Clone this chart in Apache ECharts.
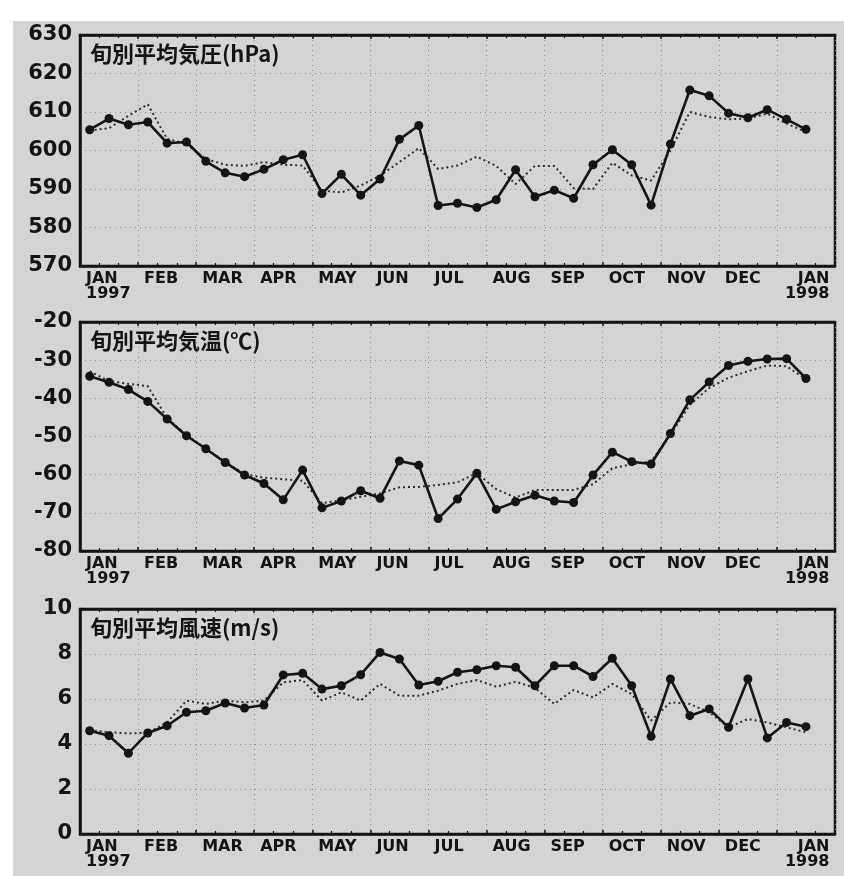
<!DOCTYPE html>
<html>
<head>
<meta charset="utf-8">
<script src="https://cdn.jsdelivr.net/npm/echarts@6/dist/echarts.min.js"></script>
<style>
html,body{margin:0;padding:0;background:#fff;}
#c{width:844px;height:876px;}
</style>
</head>
<body>
<div id="c"></div>
<script>
// x-axis tick labels (month starts, Jan 1997 .. Jan 1998)
const monthLabels = ['JAN','FEB','MAR','APR','MAY','JUN','JUL','AUG','SEP','OCT','NOV','DEC','JAN'];
const yearLabels = {0:'1997', 12:'1998'};
// 38 ten-day (旬) periods: Jan 1997 1st dekad .. Jan 1998 2nd dekad
const dekadCount = 38;

const titles = ['旬別平均気圧(hPa)', '旬別平均気温(℃)', '旬別平均風速(m/s)'];

const pressure = [605.4, 608.3, 606.7, 607.4, 601.9, 602.2, 597.2, 594.2, 593.2, 595.1,
  597.6, 598.9, 588.8, 593.8, 588.4, 592.6, 602.9, 606.5, 585.7, 586.3,
  585.2, 587.2, 595.0, 588.0, 589.7, 587.6, 596.3, 600.2, 596.3, 585.8,
  601.7, 615.7, 614.2, 609.7, 608.5, 610.6, 608.1, 605.5];
const pressureNormal = [605.2, 605.8, 609.0, 612.0, 603.0, 601.7, 597.8, 596.3, 596.0, 597.0,
  596.3, 596.1, 589.6, 589.1, 590.9, 593.5, 597.0, 600.6, 595.2, 596.1,
  598.4, 596.0, 591.3, 596.0, 596.0, 590.2, 590.0, 596.8, 593.5, 592.2,
  600.0, 610.0, 608.7, 608.1, 608.3, 609.6, 607.0, 604.8];

const temperature = [-34.2, -35.8, -37.7, -40.8, -45.4, -49.8, -53.2, -56.8, -60.1, -62.3,
  -66.6, -58.8, -68.7, -66.9, -64.2, -66.2, -56.4, -57.5, -71.5, -66.4,
  -59.6, -69.1, -67.1, -65.4, -66.9, -67.3, -60.1, -54.1, -56.6, -57.2,
  -49.2, -40.4, -35.7, -31.4, -30.3, -29.7, -29.6, -34.8];
const temperatureNormal = [-32.9, -35.5, -36.2, -36.8, -45.2, -49.6, -53.2, -56.6, -59.9, -60.8,
  -61.2, -61.6, -67.5, -66.7, -65.8, -64.9, -63.3, -63.2, -62.7, -62.0,
  -59.6, -63.8, -66.0, -64.0, -64.0, -64.0, -62.5, -58.3, -57.3, -56.5,
  -49.6, -41.7, -37.3, -34.6, -32.9, -31.4, -31.6, -35.0];

const wind = [4.59, 4.37, 3.59, 4.49, 4.81, 5.41, 5.48, 5.82, 5.60, 5.73,
  7.07, 7.14, 6.44, 6.59, 7.08, 8.07, 7.78, 6.62, 6.79, 7.19,
  7.30, 7.48, 7.41, 6.59, 7.48, 7.48, 7.00, 7.81, 6.59, 4.34,
  6.89, 5.26, 5.56, 4.74, 6.89, 4.27, 4.96, 4.77];
const windNormal = [4.62, 4.52, 4.47, 4.50, 4.96, 5.93, 5.78, 5.93, 5.85, 5.93,
  6.74, 6.84, 5.93, 6.30, 5.93, 6.67, 6.15, 6.15, 6.37, 6.67,
  6.84, 6.55, 6.77, 6.49, 5.78, 6.40, 6.07, 6.67, 6.22, 5.04,
  5.85, 5.78, 5.41, 4.74, 5.11, 4.96, 4.74, 4.52];

const yRanges = [[570, 630, 10], [-80, -20, 10], [0, 10, 2]];
const observed = [pressure, temperature, wind];
const normals = [pressureNormal, temperatureNormal, windNormal];

// position of dekad i in months from Jan 1, 1997 (centre of the ten-day period)
function dekadPos(i) { return (i + 0.5) / 3; }
function pairs(arr) { return arr.map((v, i) => [dekadPos(i), v]); }

const gridDefs = [
  {top: 35, height: 231},
  {top: 322, height: 229},
  {top: 609, height: 225}
];
const titleTops = [43, 330, 617];

const font = 'DejaVu Sans';
const ink = '#141414';

const option = {
  animation: false,
  backgroundColor: '#ffffff',
  graphic: [{
    type: 'rect', z: -10, silent: true,
    shape: {x: 13, y: 21, width: 831, height: 855},
    style: {fill: '#d4d4d4'}
  }],
  title: titles.map((t, k) => ({
    text: t, left: 90, top: titleTops[k], padding: 0,
    textStyle: {fontFamily: 'Noto Sans CJK JP', fontWeight: 'bold', fontSize: 22, color: ink}
  })),
  grid: gridDefs.map(g => ({
    left: 80, right: 9, top: g.top, height: g.height,
    show: true, borderColor: ink, borderWidth: 2.5, backgroundColor: 'transparent'
  })),
  xAxis: [],
  yAxis: [],
  series: []
};

for (let k = 0; k < 3; k++) {
  option.xAxis.push({
    type: 'value', gridIndex: k, min: 0, max: 13, interval: 1, position: 'bottom',
    axisLine: {show: true, onZero: false, lineStyle: {color: ink, width: 2.5}},
    axisTick: {show: true, inside: true, length: 4, lineStyle: {color: ink, width: 1.5}},
    minorTick: {show: true, splitNumber: 3, length: 3, lineStyle: {color: ink, width: 1.2}},
    splitLine: {show: true, lineStyle: {color: '#8a8a8a', width: 1, type: [1, 4]}},
    axisLabel: {
      margin: 5, align: 'left',
      formatter: function (v) {
        const i = Math.round(v);
        if (i >= 13) return '';
        if (i === 12) return '{b|' + monthLabels[i] + '}\n{b|' + yearLabels[i] + '}';
        if (yearLabels[i]) return '{a|' + monthLabels[i] + '}\n{a|' + yearLabels[i] + '}';
        return '{a|' + monthLabels[i] + '}';
      },
      rich: {
        a: {fontFamily: font, fontWeight: 'bold', fontSize: 16, color: ink, lineHeight: 15, padding: [0, 0, 0, 6]},
        b: {fontFamily: font, fontWeight: 'bold', fontSize: 16, color: ink, lineHeight: 15, align: 'right', padding: [0, 0, 0, 8]}
      }
    }
  });
  option.yAxis.push({
    type: 'value', gridIndex: k, min: yRanges[k][0], max: yRanges[k][1], interval: yRanges[k][2],
    axisLine: {show: true, onZero: false, lineStyle: {color: ink, width: 2.5}},
    axisTick: {show: false},
    splitLine: {show: true, lineStyle: {color: '#8a8a8a', width: 1, type: [1, 4]}},
    axisLabel: {margin: 8, fontFamily: font, fontWeight: 'bold', fontSize: 21, color: ink}
  });
}
// top borders with dekad ticks
for (let k = 0; k < 3; k++) {
  option.xAxis.push({
    type: 'value', gridIndex: k, min: 0, max: 13, interval: 1, position: 'top',
    axisLine: {show: true, onZero: false, lineStyle: {color: ink, width: 2.5}},
    axisTick: {show: true, inside: true, length: 4, lineStyle: {color: ink, width: 1.5}},
    minorTick: {show: true, splitNumber: 3, length: 3, lineStyle: {color: ink, width: 1.2}},
    splitLine: {show: false},
    axisLabel: {show: false}
  });
}

for (let k = 0; k < 3; k++) {
  option.series.push({
    type: 'line', xAxisIndex: k, yAxisIndex: k,
    data: pairs(normals[k]),
    symbol: 'none',
    lineStyle: {color: '#2e2e2e', width: 2, type: [2, 3]},
    z: 3
  });
  option.series.push({
    type: 'line', xAxisIndex: k, yAxisIndex: k,
    data: pairs(observed[k]),
    symbol: 'circle', symbolSize: 9,
    itemStyle: {color: ink, borderWidth: 0},
    lineStyle: {color: ink, width: 2.6},
    z: 4
  });
}

const chart = echarts.init(document.getElementById('c'), null, {renderer: 'canvas'});
chart.setOption(option);
</script>
</body>
</html>
